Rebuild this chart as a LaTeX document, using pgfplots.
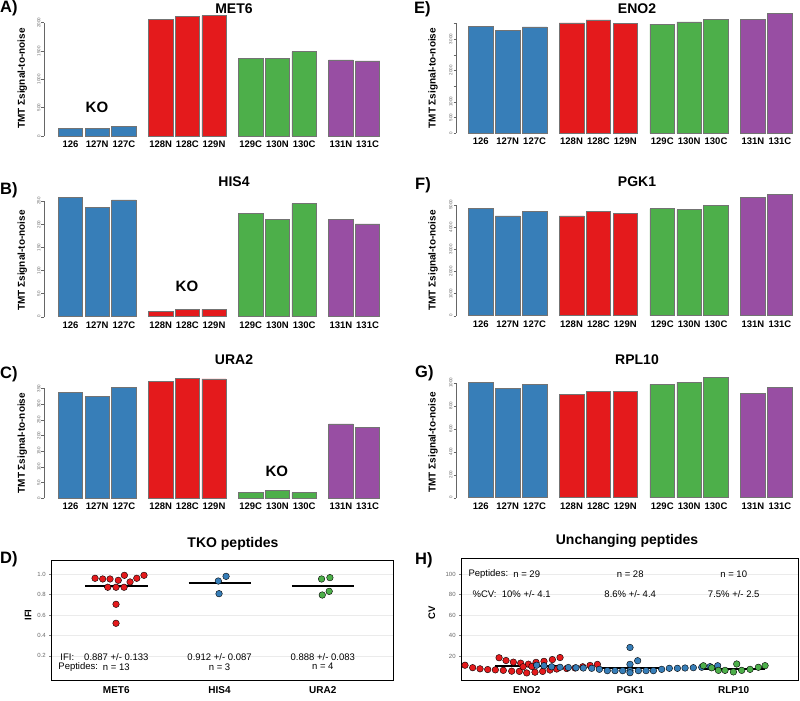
\documentclass[border=0pt]{standalone}
\usepackage{pgfplots}
\pgfplotsset{compat=1.18}
\usepackage{fontspec}
\setmainfont{Liberation Sans}
\definecolor{sblue}{RGB}{55,126,184}
\definecolor{sred}{RGB}{228,26,28}
\definecolor{sgreen}{RGB}{77,175,74}
\definecolor{spurple}{RGB}{152,78,163}
\pgfplotsset{
 barpanel/.style={
  scale only axis, ymin=0, clip=false,
  axis x line*=bottom, axis y line*=left, axis line style={draw=none},
  xtick={0,1,2,3.375,4.375,5.375,6.75,7.75,8.75,10.125,11.125},
  xticklabels={126,127N,127C,128N,128C,129N,129C,130N,130C,131N,131C},
  major x tick style={draw=none},
  xticklabel style={font=\bfseries\fontsize{9.5}{10}\selectfont, inner sep=1pt, yshift=-1pt},
  tick align=outside, major tick length=2.5pt,
  y tick style={black!60, line width=0.4pt},
  yticklabel style={rotate=90, anchor=south, font=\fontsize{4.5}{5}\selectfont, text=black!60, inner sep=1pt},
  ylabel={TMT Σsignal-to-noise},
  ylabel style={font=\bfseries\fontsize{10}{11}\selectfont, rotate=0, anchor=center},
 },
 leftpanel/.style={barpanel, width=348pt, xmin=-0.993, xmax=12.04,
  ylabel style={at={(axis description cs:-0.062,0.45)}}},
 rightpanel/.style={barpanel, width=342pt, xmin=-0.923, xmax=11.8,
  ylabel style={at={(axis description cs:-0.067,0.45)}}},
 b/.style={ybar, bar width=0.914, bar shift=0pt, draw=black!55, line width=0.6pt, fill=#1},
 dotpanel/.style={scale only axis, clip=false,
  axis line style={black, line width=0.9pt},
  xtick={1,2,3}, major x tick style={draw=none},
  tick align=outside, major tick length=2.5pt, ytick pos=left, xtick pos=lower,
  y tick style={black!50, line width=0.4pt},
  ymajorgrids, grid style={black!8, line width=0.4pt},
  xticklabel style={font=\bfseries\fontsize{10}{11}\selectfont},
  yticklabel style={font=\fontsize{6}{7}\selectfont, text=black!60},
  ylabel style={font=\bfseries\fontsize{9.5}{10}\selectfont, anchor=center},
 },
 pts/.style={only marks, mark=*, mark size=3.3pt, mark options={draw=none, fill=#1}},
 mline/.style={black, line width=1.8pt},
}
\newcommand{\ttl}{\bfseries\fontsize{14}{16}\selectfont}
\newcommand{\lett}{\bfseries\fontsize{16.5}{18}\selectfont}
\newcommand{\ko}{\bfseries\fontsize{15}{17}\selectfont}
\newcommand{\ann}{\fontsize{9.5}{11}\selectfont}
\begin{document}
\begin{tikzpicture}
\path[use as bounding box] (0,0) rectangle (800pt,-701pt);

% ---------- A) MET6
\begin{axis}[leftpanel, at={(44pt,-136pt)}, anchor=south west, height=127.5pt, ymax=2250,
  ytick={0,500,1000,1500,2000}, yticklabels={0,500,1000,1500,2000}]
\addplot[b=sblue] coordinates {(0,130) (1,140) (2,175)};
\addplot[b=sred] coordinates {(3.375,2062) (4.375,2108) (5.375,2125)};
\addplot[b=sgreen] coordinates {(6.75,1366) (7.75,1370) (8.75,1490)};
\addplot[b=spurple] coordinates {(10.125,1343) (11.125,1325)};
\draw[black!60, line width=0.4pt] (axis cs:-0.993,0) -- (axis cs:-0.993,2000);
\node[font=\ko] at (axis cs:0.99,512) {KO};
\end{axis}

% ---------- B) HIS4
\begin{axis}[leftpanel, at={(44pt,-316.7pt)}, anchor=south west, height=124.7pt, ymax=270,
  ytick={0,50,100,150,200,250}, yticklabels={0,50,100,150,200,250}]
\addplot[b=sblue] coordinates {(0,258) (1,236) (2,253)};
\addplot[b=sred] coordinates {(3.375,11) (4.375,16) (5.375,16)};
\addplot[b=sgreen] coordinates {(6.75,224) (7.75,211) (8.75,245)};
\addplot[b=spurple] coordinates {(10.125,211) (11.125,201)};
\draw[black!60, line width=0.4pt] (axis cs:-0.993,0) -- (axis cs:-0.993,250);
\node[font=\ko] at (axis cs:4.36,65) {KO};
\end{axis}

% ---------- C) URA2
\begin{axis}[leftpanel, at={(44pt,-498.3pt)}, anchor=south west, height=122.5pt, ymax=390,
  ytick={0,50,100,150,200,250,300,350}, yticklabels={0,50,100,150,200,250,300,350}]
\addplot[b=sblue] coordinates {(0,338) (1,324) (2,352)};
\addplot[b=sred] coordinates {(3.375,371) (4.375,381) (5.375,380)};
\addplot[b=sgreen] coordinates {(6.75,19) (7.75,24) (8.75,18)};
\addplot[b=spurple] coordinates {(10.125,237) (11.125,225)};
\draw[black!60, line width=0.4pt] (axis cs:-0.993,0) -- (axis cs:-0.993,350);
\node[font=\ko] at (axis cs:7.73,85) {KO};
\end{axis}

% ---------- E) ENO2
\begin{axis}[rightpanel, at={(456pt,-133.3pt)}, anchor=south west, height=122.6pt, ymax=3900,
  ytick={0,500,1000,1500,2000,2500,3000,3500}, yticklabels={0,500,1000,,2000,,3000,}]
\addplot[b=sblue] coordinates {(0,3392) (1,3277) (2,3382)};
\addplot[b=sred] coordinates {(3.375,3509) (4.375,3605) (5.375,3488)};
\addplot[b=sgreen] coordinates {(6.75,3477) (7.75,3541) (8.75,3626)};
\addplot[b=spurple] coordinates {(10.125,3636) (11.125,3818)};
\draw[black!60, line width=0.4pt] (axis cs:-0.923,0) -- (axis cs:-0.923,3500);
\end{axis}

% ---------- F) PGK1
\begin{axis}[rightpanel, at={(456pt,-315.7pt)}, anchor=south west, height=122.9pt, ymax=5550,
  ytick={0,1000,2000,3000,4000,5000}, yticklabels={0,1000,2000,3000,4000,5000}]
\addplot[b=sblue] coordinates {(0,4828) (1,4511) (2,4724)};
\addplot[b=sred] coordinates {(3.375,4511) (4.375,4724) (5.375,4602)};
\addplot[b=sgreen] coordinates {(6.75,4828) (7.75,4796) (8.75,4995)};
\addplot[b=spurple] coordinates {(10.125,5357) (11.125,5462)};
\draw[black!60, line width=0.4pt] (axis cs:-0.923,0) -- (axis cs:-0.923,5000);
\end{axis}

% ---------- G) RPL10
\begin{axis}[rightpanel, at={(456pt,-497.7pt)}, anchor=south west, height=123pt, ymax=1070,
  ytick={0,200,400,600,800,1000}, yticklabels={0,200,400,600,800,1000}]
\addplot[b=sblue] coordinates {(0,1000) (1,954) (2,986)};
\addplot[b=sred] coordinates {(3.375,899) (4.375,922) (5.375,922)};
\addplot[b=sgreen] coordinates {(6.75,986) (7.75,1006) (8.75,1047)};
\addplot[b=spurple] coordinates {(10.125,908) (11.125,960)};
\draw[black!60, line width=0.4pt] (axis cs:-0.923,0) -- (axis cs:-0.923,1000);
\end{axis}

% ---------- D) TKO peptides
\begin{axis}[dotpanel, at={(51.7pt,-680.7pt)}, anchor=south west, width=341.3pt, height=120.7pt,
  xmin=0.374, xmax=3.68, ymin=-0.043, ymax=1.14,
  xticklabels={MET6,HIS4,URA2},
  ytick={0.2,0.4,0.6,0.8,1.0}, yticklabels={0.2,0.4,0.6,0.8,1.0},
  ylabel={IFI}, ylabel style={at={(axis description cs:-0.069,0.544)}}]
\addplot[pts=sred] coordinates {(0.794,0.961) (0.868,0.954) (0.939,0.954) (1.019,0.941) (1.078,0.990) (1.133,0.925) (1.198,0.961) (1.268,0.990) (0.917,0.873) (0.997,0.873) (1.075,0.873) (0.997,0.706) (0.997,0.520)};
\addplot[pts=sblue] coordinates {(1.988,0.934) (2.063,0.980) (1.995,0.810)};
\addplot[pts=sgreen] coordinates {(2.988,0.954) (3.069,0.967) (2.995,0.797) (3.062,0.833)};
\addplot[mline] coordinates {(0.697,0.887) (1.304,0.887)};
\addplot[mline] coordinates {(1.70,0.912) (2.30,0.912)};
\addplot[mline] coordinates {(2.70,0.888) (3.30,0.888)};
\node[font=\ann, anchor=west] at (axis cs:0.425,0.192) {IFI:};
\node[font=\ann] at (axis cs:1,0.192) {0.887 +/- 0.133};
\node[font=\ann] at (axis cs:2,0.192) {0.912 +/- 0.087};
\node[font=\ann] at (axis cs:3,0.192) {0.888 +/- 0.083};
\node[font=\ann, anchor=west] at (axis cs:0.405,0.094) {Peptides:};
\node[font=\ann] at (axis cs:1,0.094) {n = 13};
\node[font=\ann] at (axis cs:2,0.094) {n = 3};
\node[font=\ann] at (axis cs:3,0.094) {n = 4};
\end{axis}

% ---------- H) Unchanging peptides
\begin{axis}[dotpanel, at={(461.7pt,-680.7pt)}, anchor=south west, width=336.6pt, height=122.4pt,
  xmin=0.372, xmax=3.624, ymin=-4.1, ymax=115.3,
  xticklabels={ENO2,PGK1,RLP10},
  ytick={20,40,60,80,100}, yticklabels={20,40,60,80,100},
  ylabel={CV}, ylabel style={at={(axis description cs:-0.089,0.553)}}]
\addplot[pts=sred] coordinates {(0.404,11.0) (0.478,8.6) (0.549,7.5) (0.623,6.8) (0.697,6.5)
 (0.733,18.3) (0.800,15.6) (0.871,14.0) (0.942,13.0) (1.016,12.0) (1.090,13.8) (1.167,14.8) (1.248,16.5) (1.322,18.5)
 (0.774,6.0) (0.855,5.2) (0.929,5.0) (1.000,3.5) (1.080,4.2) (1.154,5.0) (1.225,6.3) (1.290,7.3)
 (1.386,7.8) (1.467,8.3) (1.541,9.5) (1.612,10.8) (1.683,11.8) (0.965,9.5) (1.050,9.8)};
\addplot[pts=sblue] coordinates {(1.096,11.0) (1.167,10.5) (1.241,9.5) (1.322,9.0) (1.402,8.8) (1.476,8.5) (1.547,8.3) (1.628,8.0) (1.702,7.0) (1.779,5.7) (1.853,5.7) (1.927,5.7) (1.998,5.7) (1.998,11.9) (1.998,28.3) (1.998,3.7) (2.072,15.4) (2.079,5.7) (2.153,5.7) (2.224,5.7) (2.304,7.0) (2.378,8.0) (2.456,8.0) (2.530,8.3) (2.610,8.6) (2.691,9.0) (2.771,9.6) (2.845,10.5)};
\addplot[pts=sgreen] coordinates {(2.707,10.5) (2.787,8.5) (2.852,6.0) (2.916,6.0) (2.997,4.5) (3.029,12.2) (3.077,6.0) (3.158,7.0) (3.238,9.0) (3.303,10.6)};
\addplot[mline] coordinates {(0.694,10.0) (1.306,10.0)};
\addplot[mline] coordinates {(1.70,8.6) (2.30,8.6)};
\addplot[mline] coordinates {(2.70,7.5) (3.30,7.5)};
\node[font=\ann, anchor=west] at (axis cs:0.404,100) {Peptides:};
\node[font=\ann] at (axis cs:1,100) {n = 29};
\node[font=\ann] at (axis cs:2,100) {n = 28};
\node[font=\ann] at (axis cs:3,100) {n = 10};
\node[font=\ann, anchor=west, inner sep=0pt] at (axis cs:0.476,80) {\%CV:};
\node[font=\ann, anchor=west, inner sep=0pt] at (axis cs:0.758,80) {10\% +/- 4.1};
\node[font=\ann] at (axis cs:2,80) {8.6\% +/- 4.4};
\node[font=\ann] at (axis cs:3,80) {7.5\% +/- 2.5};
\end{axis}

% ---------- titles and panel letters
\node[font=\ttl] at (234pt,-8.7pt) {MET6};
\node[font=\ttl] at (637pt,-9pt) {ENO2};
\node[font=\ttl] at (234pt,-181.7pt) {HIS4};
\node[font=\ttl] at (637pt,-181.7pt) {PGK1};
\node[font=\ttl] at (234pt,-360pt) {URA2};
\node[font=\ttl] at (637pt,-360pt) {RPL10};
\node[font=\ttl] at (233pt,-544.3pt) {TKO peptides};
\node[font=\ttl] at (627pt,-541pt) {Unchanging peptides};
\node[font=\lett, anchor=west, inner sep=0pt] at (0pt,-8.5pt) {A)};
\node[font=\lett, anchor=west, inner sep=0pt] at (0pt,-190pt) {B)};
\node[font=\lett, anchor=west, inner sep=0pt] at (0pt,-374pt) {C)};
\node[font=\lett, anchor=west, inner sep=0pt] at (0pt,-559pt) {D)};
\node[font=\lett, anchor=west, inner sep=0pt] at (414pt,-9pt) {E)};
\node[font=\lett, anchor=west, inner sep=0pt] at (415pt,-185pt) {F)};
\node[font=\lett, anchor=west, inner sep=0pt] at (415pt,-373pt) {G)};
\node[font=\lett, anchor=west, inner sep=0pt] at (415pt,-560pt) {H)};
\end{tikzpicture}
\end{document}
